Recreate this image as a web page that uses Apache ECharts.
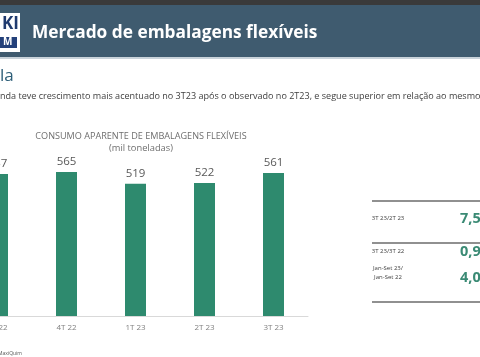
<!DOCTYPE html>
<html>
<head>
<meta charset="utf-8">
<script src="https://cdn.jsdelivr.net/npm/echarts@6/dist/echarts.min.js"></script>
<style>html,body{margin:0;padding:0;background:#fff;overflow:hidden;}#c{position:absolute;left:-37px;top:0;width:517px;height:357px;}</style>
</head>
<body>
<div id="c"></div>
<script>
const categories = ['3T 22', '4T 22', '1T 23', '2T 23', '3T 23'];
const consumo = [557, 565, 519, 522, 561];
const tableLabels = [['3T 23/2T 23'], ['3T 23/3T 22'], ['Jan-Set 23/', 'Jan-Set 22']];
const tableValues = ['7,5%', '0,9%', '4,0%'];

const chart = echarts.init(document.getElementById('c'), null, {renderer: 'canvas'});
const F = '"Open Sans", "Noto Sans", sans-serif';
const OFF = 37;

const items = [
  {type: 'rect', shape: {x: 0, y: 0, width: 480, height: 5}, style: {fill: '#3a3a3a'}},
  {type: 'rect', shape: {x: 0, y: 5, width: 480, height: 52}, style: {fill: '#3f5b6f'}},
  {type: 'rect', shape: {x: 0, y: 57, width: 480, height: 2}, style: {fill: '#c9d3da'}},
  {type: 'rect', shape: {x: 0, y: 13, width: 20, height: 39}, style: {fill: '#ffffff'}},
  {type: 'text', style: {x: 2, y: 16, text: 'KI', font: 'bold 17px ' + F, fill: '#1f3a6e'}},
  {type: 'rect', shape: {x: 0, y: 37, width: 17, height: 11}, style: {fill: '#23407a'}},
  {type: 'text', style: {x: 3, y: 37, text: 'M', font: 'bold 10px ' + F, fill: '#ffffff'}},
  {type: 'text', style: {x: 32, y: 33, text: 'Mercado de embalagens flexíveis', font: 'bold 17.3px ' + F, fill: '#ffffff', textVerticalAlign: 'middle'}},
  {type: 'text', style: {x: 0, y: 76, text: 'la', font: '17px ' + F, fill: '#2d5e78', textVerticalAlign: 'middle'}},
  {type: 'text', style: {x: 0, y: 96, text: 'nda teve crescimento mais acentuado no 3T23 após o observado no 2T23, e segue superior em relação ao mesmo', font: '9.05px ' + F, fill: '#404040', textVerticalAlign: 'middle'}},
  {type: 'text', style: {x: 141, y: 136, text: 'CONSUMO APARENTE DE EMBALAGENS FLEXÍVEIS', font: '9.1px ' + F, fill: '#6e6e6e', textAlign: 'center', textVerticalAlign: 'middle'}},
  {type: 'text', style: {x: 141, y: 148, text: '(mil toneladas)', font: '9.3px ' + F, fill: '#6e6e6e', textAlign: 'center', textVerticalAlign: 'middle'}},
  {type: 'text', style: {x: 22, y: 354, text: 'Fonte: MaxiQuim', font: '5px ' + F, fill: '#555', textAlign: 'right', textVerticalAlign: 'middle'}},
  {type: 'line', shape: {x1: 372, y1: 201, x2: 480, y2: 201}, style: {stroke: '#6b6b6b', lineWidth: 1.5}},
  {type: 'line', shape: {x1: 372, y1: 243, x2: 480, y2: 243}, style: {stroke: '#6b6b6b', lineWidth: 1.5}},
  {type: 'line', shape: {x1: 372, y1: 302, x2: 480, y2: 302}, style: {stroke: '#6b6b6b', lineWidth: 1.5}}
];
const rowY = [218, 251, 275];
tableLabels.forEach((lines, i) => {
  lines.forEach((t, j) => {
    const y = lines.length === 1 ? rowY[i] : rowY[i] - 7 + j * 9;
    items.push({type: 'text', style: {x: 388, y: y, text: t, font: '6px ' + F, fill: '#404040', textAlign: 'center', textVerticalAlign: 'middle'}});
  });
  items.push({type: 'text', style: {x: 460, y: rowY[i] + (i === 2 ? 3 : 1), text: tableValues[i], font: 'bold 14.5px ' + F, fill: '#3a8a74', textVerticalAlign: 'middle'}});
});

chart.setOption({
  animation: false,
  grid: {left: 0, width: 345, top: 163, bottom: 41},
  xAxis: {
    type: 'category', data: categories,
    axisLine: {lineStyle: {color: '#d9d9d9', width: 1}},
    axisTick: {show: false},
    axisLabel: {color: '#7f7f7f', fontSize: 8, fontFamily: F, margin: 8}
  },
  yAxis: {type: 'value', min: 0, max: 600, show: false, splitLine: {show: false}},
  series: [{
    type: 'bar', data: consumo, barWidth: 21,
    itemStyle: {color: '#2e8a6e'},
    label: {show: true, position: 'top', color: '#595959', fontSize: 11.5, fontFamily: F, distance: 4}
  }],
  graphic: [{type: 'group', x: OFF, y: 0, children: items}]
});
</script>
</body>
</html>
